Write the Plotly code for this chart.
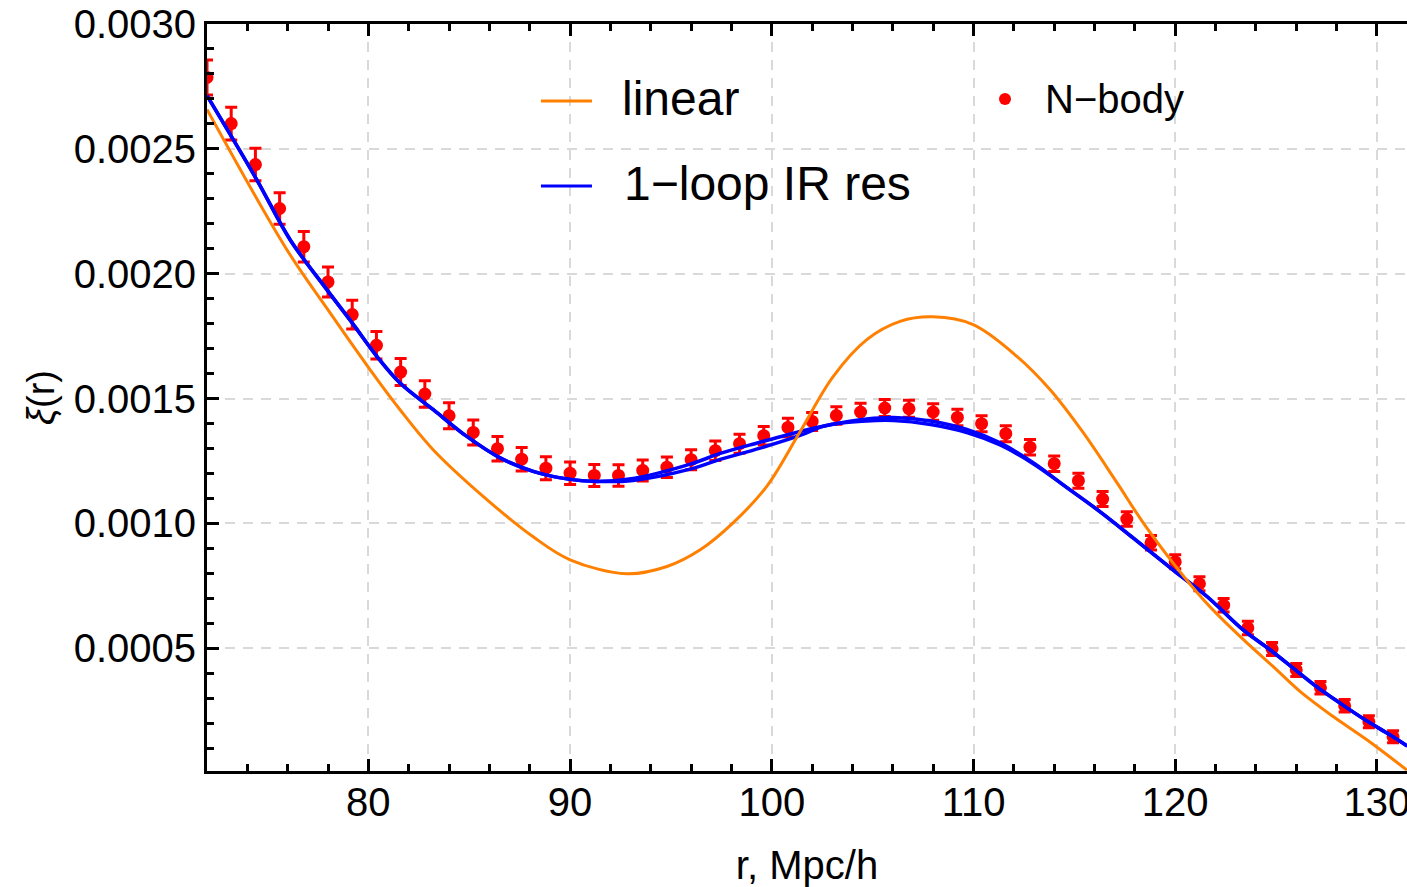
import plotly.graph_objects as go

# ---------------- data ----------------
r_nbody = [72.0, 73.2, 74.4, 75.6, 76.8, 78.0, 79.2, 80.4, 81.6, 82.8,
           84.0, 85.2, 86.4, 87.6, 88.8, 90.0, 91.2, 92.4, 93.6, 94.8,
           96.0, 97.2, 98.4, 99.6, 100.8, 102.0, 103.2, 104.4, 105.6, 106.8,
           108.0, 109.2, 110.4, 111.6, 112.8, 114.0, 115.2, 116.4, 117.6, 118.8,
           120.0, 121.2, 122.4, 123.6, 124.8, 126.0, 127.2, 128.4, 129.6, 130.8]
xi_nbody = [0.002786, 0.002601, 0.002437, 0.002261, 0.002108, 0.001967, 0.001836, 0.001713, 0.001606, 0.001518,
            0.001431, 0.001364, 0.001299, 0.001257, 0.001221, 0.001201, 0.001192, 0.001192, 0.001212, 0.001225,
            0.001255, 0.001291, 0.001319, 0.001351, 0.001384, 0.001408, 0.001432, 0.001446, 0.001462, 0.001459,
            0.001446, 0.001424, 0.001399, 0.001359, 0.001305, 0.001239, 0.001171, 0.001097, 0.001017, 0.000922,
            0.000846, 0.000758, 0.000672, 0.000581, 0.000497, 0.000413, 0.000341, 0.000269, 0.000205, 0.000145]
err_nbody = [0.000070, 0.000066, 0.000065, 0.000063, 0.000061, 0.000060, 0.000058, 0.000055, 0.000054, 0.000053,
             0.000052, 0.000050, 0.000049, 0.000047, 0.000046, 0.000045, 0.000044, 0.000043, 0.000042, 0.000041,
             0.000040, 0.000039, 0.000038, 0.000037, 0.000037, 0.000036, 0.000035, 0.000035, 0.000034, 0.000034,
             0.000033, 0.000033, 0.000032, 0.000032, 0.000031, 0.000031, 0.000030, 0.000030, 0.000029, 0.000029,
             0.000028, 0.000028, 0.000027, 0.000027, 0.000026, 0.000026, 0.000025, 0.000025, 0.000024, 0.000024]

r_linear = [72.0, 75.96, 78.0, 80.09, 81.57, 83.21, 85.89, 88.17, 90.0, 92.81,
            94.80, 96.45, 98.08, 99.75, 101.40, 103.04, 104.71, 106.36, 108.0, 109.98,
            112.15, 113.80, 115.44, 117.11, 118.59, 121.40, 123.37, 124.86, 126.20, 127.83,
            129.50, 131.48]
xi_linear = [0.002658, 0.002096, 0.001855, 0.001615, 0.001455, 0.001295, 0.001094, 0.000946, 0.000854, 0.000798,
             0.000827, 0.000894, 0.001002, 0.001148, 0.001367, 0.001588, 0.001736, 0.001809, 0.001827, 0.001796,
             0.001669, 0.001535, 0.001363, 0.001163, 0.000982, 0.000694, 0.000535, 0.000426, 0.000326, 0.000226,
             0.000133, 0.000012]

r_loop = [72.0, 74.47, 76.12, 77.94, 79.26, 80.42, 81.57, 83.22, 84.88, 86.53,
          88.17, 89.84, 91.33, 93.13, 96.0, 97.44, 99.42, 101.4, 102.6, 104.71,
          106.03, 107.87, 109.67, 111.32, 112.96, 114.63, 116.28, 117.91, 119.95, 121.59,
          123.37, 124.71, 125.85, 127.04, 128.17, 129.51, 130.66, 131.50]
xi_loop_a = [0.002713, 0.002376, 0.002136, 0.001936, 0.001796, 0.001669, 0.001562, 0.001455, 0.001348, 0.001262,
             0.001208, 0.001178, 0.001168, 0.001180, 0.001238, 0.001280, 0.001325, 0.001368, 0.001390, 0.001418,
             0.001424, 0.001410, 0.001376, 0.001322, 0.001243, 0.001143, 0.001046, 0.000942, 0.000810, 0.000706,
             0.000573, 0.000493, 0.000420, 0.000344, 0.000280, 0.000208, 0.000152, 0.000108]
xi_loop_b = [0.002713, 0.002376, 0.002136, 0.001936, 0.001796, 0.001669, 0.001562, 0.001455, 0.001348, 0.001262,
             0.001208, 0.001178, 0.001168, 0.001172, 0.001218, 0.001256, 0.001301, 0.001352, 0.001390, 0.001410,
             0.001412, 0.001396, 0.001364, 0.001314, 0.001239, 0.001143, 0.001046, 0.000942, 0.000810, 0.000706,
             0.000573, 0.000493, 0.000420, 0.000344, 0.000280, 0.000208, 0.000152, 0.000108]

x_ticks = [80, 90, 100, 110, 120, 130]
y_ticks = [0.0005, 0.0010, 0.0015, 0.0020, 0.0025, 0.0030]
legend_labels = ["linear", "1\u2212loop IR res", "N\u2212body"]

ORANGE = "#FF8000"
BLUE = "#0000FF"
RED = "#FF0000"
FONT = "Liberation Sans, Arial, Helvetica, sans-serif"

fig = go.Figure()

fig.add_trace(go.Scatter(
    x=r_nbody, y=xi_nbody, mode="markers", name=legend_labels[2],
    marker=dict(color=RED, size=13),
    error_y=dict(type="data", array=err_nbody, color=RED, thickness=3, width=6),
))
for ys in (xi_loop_a, xi_loop_b):
    fig.add_trace(go.Scatter(
        x=r_loop, y=ys, mode="lines", name=legend_labels[1],
        line=dict(color=BLUE, width=3.5, shape="spline", smoothing=1.0),
    ))
fig.add_trace(go.Scatter(
    x=r_linear, y=xi_linear, mode="lines", name=legend_labels[0],
    line=dict(color=ORANGE, width=3, shape="spline", smoothing=1.0),
))

# custom legend (paper coordinates; plot area 1200 x 747 px)
shapes = [
    dict(type="line", xref="paper", yref="paper", x0=0.2783, x1=0.3208, y0=0.8969, y1=0.8969,
         line=dict(color=ORANGE, width=3)),
    dict(type="line", xref="paper", yref="paper", x0=0.2783, x1=0.3208, y0=0.7831, y1=0.7831,
         line=dict(color=BLUE, width=3)),
    dict(type="circle", xref="paper", yref="paper", xsizemode="pixel", ysizemode="pixel",
         xanchor=0.665, yanchor=0.8996, x0=-6, x1=6, y0=-6, y1=6,
         fillcolor=RED, line=dict(color=RED, width=0)),
]
annotations = [
    dict(text=legend_labels[0], xref="paper", yref="paper", x=0.3442, y=0.8996,
         xanchor="left", yanchor="middle", showarrow=False, font=dict(size=48, color="black", family=FONT)),
    dict(text=legend_labels[1], xref="paper", yref="paper", x=0.3458, y=0.7870,
         xanchor="left", yanchor="middle", showarrow=False, font=dict(size=48, color="black", family=FONT)),
    dict(text=legend_labels[2], xref="paper", yref="paper", x=0.6967, y=0.8996,
         xanchor="left", yanchor="middle", showarrow=False, font=dict(size=40, color="black", family=FONT)),
]

fig.update_layout(
    template="none",
    width=1407, height=887,
    margin=dict(l=207, r=0, t=24, b=116, pad=0),
    paper_bgcolor="white", plot_bgcolor="white",
    showlegend=False,
    font=dict(family=FONT, color="black", size=40),
    shapes=shapes, annotations=annotations,
)
fig.update_xaxes(
    range=[72, 131.49], tickvals=x_ticks, ticktext=[str(v) for v in x_ticks],
    showgrid=True, gridcolor="#D9D9D9", gridwidth=2, griddash="10px,8px",
    showline=True, linecolor="black", linewidth=3, mirror="ticks",
    ticks="inside", ticklen=12, tickwidth=2.5, tickcolor="black",
    minor=dict(dtick=2, tick0=0, ticks="inside", ticklen=7, tickwidth=2.5, tickcolor="black", showgrid=False),
    tickfont=dict(size=40, family=FONT), ticklabelstandoff=-6, ticklabeloverflow="allow",
    zeroline=False, automargin=False,
    title=dict(text="r, Mpc/h", font=dict(size=40, family=FONT), standoff=29),
)
fig.update_yaxes(
    range=[0.000008, 0.003], tickvals=y_ticks, ticktext=["%.4f" % v for v in y_ticks],
    showgrid=True, gridcolor="#D9D9D9", gridwidth=2, griddash="10px,8px",
    showline=True, linecolor="black", linewidth=3, mirror=False,
    ticks="inside", ticklen=12, tickwidth=2.5, tickcolor="black",
    minor=dict(dtick=0.0001, tick0=0, ticks="inside", ticklen=7, tickwidth=2.5, tickcolor="black", showgrid=False),
    tickfont=dict(size=40, family=FONT), ticklabelstandoff=0, ticklabeloverflow="allow",
    zeroline=False, automargin=False,
    title=dict(text="<i>\u03be</i>(r)", font=dict(size=38, family=FONT), standoff=8),
)

# remove the default 8px page margin so the 1407x887 figure fills the window exactly
fig.write_html(
    "out.html",
    config={"displayModeBar": False},
    post_script="document.body.style.margin='0';document.body.style.overflow='hidden';",
)
